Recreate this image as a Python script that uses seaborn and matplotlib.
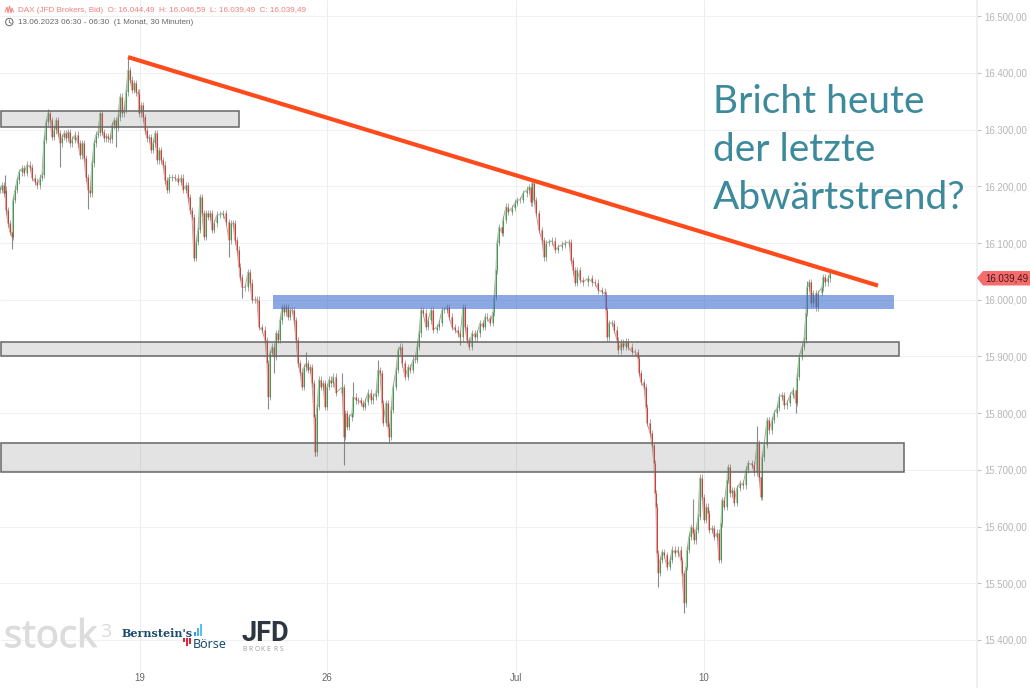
import numpy as np
import pandas as pd
import matplotlib
matplotlib.use("Agg")
import matplotlib.pyplot as plt
from matplotlib.patches import Rectangle, Polygon, Ellipse
import matplotlib.patheffects as pe
import seaborn as sns

# bar number and close
bar_pos = [0,2,4,5,6,8,10,12,13,15,17,19,22,24,27,30,32,35,37,40,42,44,46,48,50,52,54,56,58,60,62,64,66,68,70,72,75,78,80,82,84,86,88,90,92,94,96,98,100,102,104,106,108,110,112,114,116,118,120,122,124,126,128,130,132,134,136,138,139,141,143,145,147,149,151,153,155,157,159,161,163,165,167,169,172,175,178,181,183,186,188,190,192,194,196,198,200,202,204,206,208,210,212,214,217,220,223,226,229,231,233,235,237,239,
    240,242,245,248,250,252,255,257,259,262,265,267,268,270,272,274,276,278,280,282,284,286,288,290,292,294,296,298,300,302,304,306,308,310,312,314,315,317,319,321,323,325,327,329,331,333,336,
    342,344,345,347,349,352,353,356,358,361,363,365,368,371,373,376,378,380,382,383,386,388,389,391,393,396,398,400,402,405,408,410,413,415,417,419,421,423,426,428,431,433,437,439,442,444,447,449,452,455,458,460,463,465,467,469,472,475,477,480,483,485,487,490,493,494,496,497,499,502,503,506,508,512,515,517,520,523,527,529,531,532,534,536,539,542,544,546,549,552,555,558,562,565,569,571,573,575,577,580,583,588,592,595,598,602,605,606,607,609,612,614,617,618,621,623,626,628,632,635,638,639,641,644,646,647,650,652,654,655,
    656,657,658,660,662,664,667,670,672,675,678,681,682,684,686,687,689,691,693,694,696,698,700,702,704,706,708,709,712,714,717,719,721,722,724,727,728,730,732,734,737,740,743,746,748,752,754,757,759,761,762,764,767,769,772,774,777,779,782,784,787,790,793,796,797,799,802,804,806,807,809,811,813,816,818,822,823,825,828,830]
bar_close = [16194,16202,16188,16194,16158,16135,16120,16111,16176,16194,16211,16225,16232,16224,16238,16234,16215,16208,16202,16215,16220,16282,16313,16329,16317,16287,16299,16317,16294,16276,16287,16294,16285,16296,16276,16282,16291,16276,16255,16276,16250,16216,16194,16188,16241,16276,16291,16294,16329,16296,16285,16289,16285,16283,16308,16317,16303,16322,16358,16329,16335,16366,16405,16388,16370,16382,16366,16365,16329,16343,16322,16299,16285,16287,16264,16276,16294,16246,16264,16246,16238,16211,16194,16215,16216,16215,16208,16215,16194,16202,16181,16158,16146,16074,16102,16123,16181,16153,16111,16153,16146,16153,16123,16135,16150,16150,16153,16137,16105,16135,16135,16105,16088,16058,
    16040,16022,16022,16049,16030,16000,16000,16000,15952,15947,15929,15888,15829,15906,15917,15899,15941,15929,15964,15987,15978,15987,15970,15982,15982,15964,15929,15888,15873,15846,15881,15888,15876,15881,15853,15793,15731,15811,15859,15846,15853,15811,15846,15859,15853,15864,15836,
    15846,15758,15800,15776,15793,15800,15829,15823,15823,15818,15811,15820,15836,15823,15829,15836,15876,15871,15818,15783,15818,15776,15758,15806,15846,15876,15911,15917,15888,15864,15881,15876,15894,15894,15917,15941,15982,15977,15952,15964,15982,15947,15952,15959,15982,15982,15987,15970,15952,15947,15941,15934,15987,15952,15929,15917,15941,15934,15941,15959,15952,15970,15968,15959,15978,16005,16052,16100,16128,16118,16141,16164,16155,16162,16171,16176,16176,16188,16194,16199,16172,16206,16176,16153,16123,16105,16075,16100,16102,16104,16088,16093,16097,16100,16102,16070,16052,16030,16052,16035,16031,16038,16031,16030,16017,16014,16010,15982,15934,15959,15959,15947,15929,15911,15924,15917,15926,15917,15908,15908,15897,15871,15855,15846,15811,15783,15765,15744,15712,15659,
    15635,15553,15518,15541,15555,15550,15529,15541,15559,15553,15559,15541,15518,15465,15529,15559,15582,15599,15589,15576,15594,15617,15686,15652,15612,15635,15624,15594,15597,15582,15589,15541,15606,15647,15635,15682,15705,15659,15664,15642,15668,15677,15673,15700,15712,15709,15696,15747,15687,15652,15722,15744,15788,15770,15788,15800,15809,15829,15832,15814,15818,15832,15841,15818,15864,15899,15917,15929,15977,16022,16031,15994,16012,15987,16012,16022,16040,16031,16038,16047]

# the long wicks
low_spike_pos = [12,60,88,116,194,229,242,268,274,315,344,389,460,658,684,796]
low_spike_val = [16089,16234,16160,16269,16070,16075,16003,15807,15871,15724,15708,15749,15920,15493,15448,15800]
high_spike_pos = [5,48,128,306,342,353,378,693,757,807]
high_spike_val = [16220,16336,16428,15908,15871,15855,15894,15649,15777,16033]

# zones and trend line
gray_zone_start = [0, 0, 0]
gray_zone_end = [238, 898, 903]
gray_zone_low = [16305, 15900, 15697]
gray_zone_high = [16333, 15926, 15747]
blue_zone_x = [273, 894]
blue_zone_y = [15984, 16008]
trend_x = [128, 878]
trend_y = [16428, 16025]

x_tick_pos = [140, 327, 516, 704]
x_tick_labels = ["19", "26", "Jul", "10"]
y_tick_pos = [16500,16400,16300,16200,16100,16000,15900,15800,15700,15600,15500,15400]
y_tick_labels = ["16.500,00","16.400,00","16.300,00","16.200,00","16.100,00","16.000,00",
                 "15.900,00","15.800,00","15.700,00","15.600,00","15.500,00","15.400,00"]

sns.set_theme(style="white")
plt.rcParams['font.family'] = ['Liberation Sans', 'DejaVu Sans']

W, H = 1030, 688
fig = plt.figure(figsize=(W / 100, H / 100), dpi=100)
ax = fig.add_axes([0, 0, 977 / W, 1])
ax.set_xlim(0, 977)
ax.set_ylim(15315.3, 16528.7)

def fx(x):
    return x / W

def fy(y):
    return 1 - y / H

# grid
ax.hlines(y_tick_pos, 0, 977, color="#f1f1f1", lw=0.8, zorder=0)
ax.vlines(x_tick_pos, 15343, 16528.7, color="#ededed", lw=0.7, zorder=0)

bars = pd.DataFrame({"pos": bar_pos, "close": bar_close})
bars["open"] = bars["close"].shift(1).fillna(bars["close"])
bars["up"] = bars["close"] >= bars["open"]

# small wicks, line through the closes, then the bodies
ax.vlines(bars["pos"], bars[["open", "close"]].min(axis=1) - 6,
          bars[["open", "close"]].max(axis=1) + 6, color="#999999", lw=0.6, zorder=2)
sns.lineplot(data=bars, x="pos", y="close", ax=ax, color="#9a7a70", lw=0.7, alpha=0.7,
             estimator=None, sort=False, zorder=2)
for up, col, pale in [(True, "#3d8a4a", "#a8d0ae"), (False, "#b8352c", "#eba5a0")]:
    part = bars[bars["up"] == up]
    ax.vlines(part["pos"], part["open"], part["close"], color=pale, lw=1.5, zorder=2.5)
    ax.vlines(part["pos"], part["open"], part["close"], color=col, lw=0.6, zorder=3)

close_at = bars.set_index("pos")["close"]
ax.vlines(low_spike_pos, close_at.loc[low_spike_pos], low_spike_val, color="#8a8a8a", lw=0.8, zorder=2)
ax.vlines(high_spike_pos, close_at.loc[high_spike_pos], high_spike_val, color="#8a8a8a", lw=0.8, zorder=2)

# zones
for x0, x1, y0, y1 in zip(gray_zone_start, gray_zone_end, gray_zone_low, gray_zone_high):
    ax.add_patch(Rectangle((x0 + 0.5, y0), x1 - x0, y1 - y0, facecolor=(0.5, 0.5, 0.5, 0.22),
                           edgecolor="#666666", lw=1.1, zorder=4))
ax.add_patch(Rectangle((blue_zone_x[0], blue_zone_y[0]), blue_zone_x[1] - blue_zone_x[0],
                       blue_zone_y[1] - blue_zone_y[0], facecolor="#3f6fcf", alpha=0.6,
                       edgecolor="none", zorder=4))

# trend line
trend = pd.DataFrame({"x": trend_x, "y": trend_y})
sns.lineplot(data=trend, x="x", y="y", ax=ax, color="#ff4a1c", lw=3.0, zorder=5,
             solid_capstyle="butt", estimator=None)

ax.set_xlabel("")
ax.set_ylabel("")
ax.set_xticks(x_tick_pos)
ax.set_xticklabels(x_tick_labels)
ax.set_yticks(y_tick_pos)
ax.set_yticklabels(y_tick_labels)
ax.yaxis.tick_right()
ax.tick_params(axis="y", length=3, width=0.8, color="#c4c4c4", labelcolor="#b5b5b5",
               labelsize=6.9, pad=2)
ax.tick_params(axis="x", direction="in", length=2, width=0.8, color="#555555", labelcolor="#666666",
               labelsize=6.9, pad=-11)
for name in ["top", "left", "bottom"]:
    ax.spines[name].set_visible(False)
ax.spines["right"].set_color("#eeeeee")
ax.spines["right"].set_linewidth(1.2)

# header
fig.text(fx(17.5), fy(10), "DAX (JFD Brokers, Bid)  O: 16.044,49  H: 16.046,59  L: 16.039,49  C: 16.039,49",
         color="#f47f7f", fontsize=5.88, va="center")
fig.text(fx(17.5), fy(22), "13.06.2023 06:30 - 06:30  (1 Monat, 30 Minuten)",
         color="#666666", fontsize=5.88, va="center")
fig.add_artist(Ellipse((fx(9.3), fy(22)), 7.4 / W, 7.4 / H, transform=fig.transFigure, facecolor="none",
                       edgecolor="#666666", lw=0.7))
fig.add_artist(plt.Line2D([fx(9.3), fx(9.3), fx(11.3)], [fy(19.8), fy(22.3), fy(23.3)], color="#666666", lw=0.6))
fig.add_artist(plt.Line2D([fx(5), fx(7), fx(8), fx(9.5), fx(11), fx(12), fx(13.5)],
                          [fy(12), fy(7), fy(13), fy(6), fy(13), fy(8), fy(12)], color="#f47f7f", lw=0.7))

# annotation
for txt, base in [("Bricht heute", 113), ("der letzte", 161), ("Abwärtstrend?", 209)]:
    fig.text(fx(713), fy(base), txt, color="#3c8a9c", fontsize=28, family="Lato", va="baseline")

# price tag
fig.add_artist(Polygon([(fx(977), fy(278)), (fx(983), fy(271)), (fx(1030), fy(271)),
                        (fx(1030), fy(285.5)), (fx(983), fy(285.5))], closed=True,
                       transform=fig.transFigure, facecolor="#f46c6c", edgecolor="none"))
fig.text(fx(985), fy(278), "16.039,49", color="#4a1515", fontsize=6.9, va="center")

# logos
stock_word = fig.text(fx(4), fy(647), "stock", color="#dcdcdc", fontsize=27.5, family="Open Sans", va="baseline")
stock_word.set_path_effects([pe.withStroke(linewidth=0.7, foreground="#dcdcdc")])
fig.text(fx(100), fy(637), "3", color="#dcdcdc", fontsize=14, family="Open Sans", va="baseline")
fig.text(fx(122), fy(637), "Bernstein's", color="#1b4a70", fontsize=8.0, weight="bold",
         family="DejaVu Serif", va="baseline")
fig.text(fx(193), fy(647.5), "Börse", color="#1b4a70", fontsize=9, weight="semibold", family="Noto Sans", va="baseline")
for bx, bt, col in [(193.5, 632, "#2f9ed8"), (196.5, 628, "#4db4e6"), (199.5, 624, "#5bc0eb")]:
    fig.add_artist(Rectangle((fx(bx), fy(636)), 2.2 / W, (636 - bt) / H, transform=fig.transFigure,
                             facecolor=col, edgecolor="none"))
for bx, bt in [(182.5, 642), (185.5, 646), (188.5, 644)]:
    fig.add_artist(Rectangle((fx(bx), fy(bt)), 2.2 / W, (bt - 638) / H, transform=fig.transFigure,
                             facecolor="#d9263a", edgecolor="none"))
fig.text(fx(241), fy(641), "JFD", color="#2d3640", fontsize=19.5, weight="bold", family="Roboto", va="baseline")
for i, letter in enumerate("BROKERS"):
    fig.text(fx(242 + i * 6.2), fy(651), letter, color="#9a9a9a", fontsize=4.8, family="Open Sans", va="baseline")

fig.savefig("out.png", dpi=100)
